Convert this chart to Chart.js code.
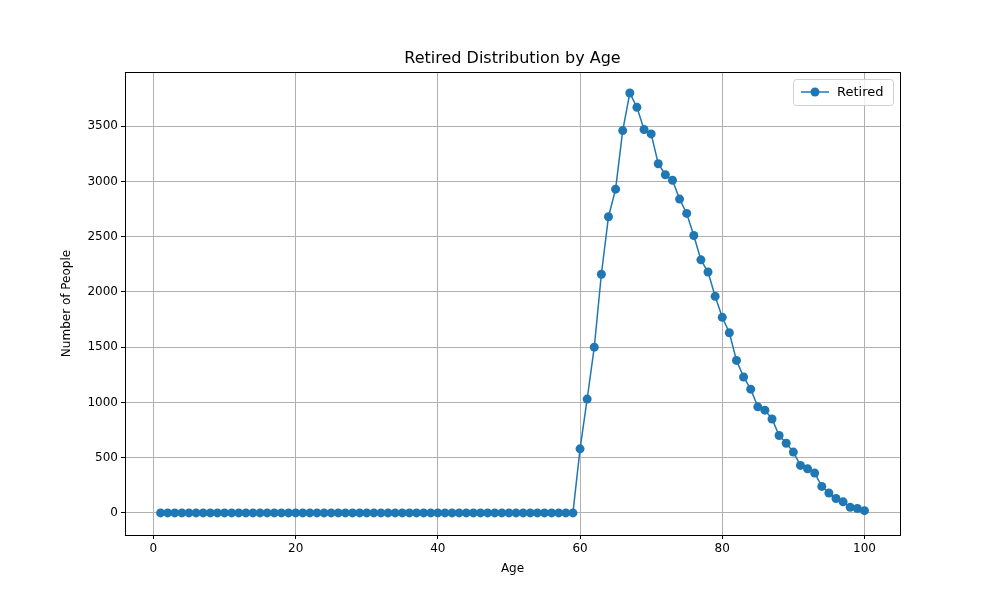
<!DOCTYPE html>
<html>
<head>
<meta charset="utf-8">
<script src="https://cdn.jsdelivr.net/npm/chart.js@4/dist/chart.umd.min.js"></script>
<style>
  html, body { margin: 0; padding: 0; background: #fff; }
  #wrap { width: 1000px; height: 600px; }
</style>
</head>
<body>
<div id="wrap"><canvas id="c" width="1000" height="600"></canvas></div>
<script>
const ages = Array.from({ length: 100 }, (_, i) => i + 1);
const retiredTail = [580, 1030, 1500, 2160, 2680, 2930, 3460, 3800, 3670, 3470, 3430, 3160, 3060, 3010,
  2840, 2710, 2510, 2290, 2180, 1960, 1770, 1630, 1380, 1230, 1120, 960, 930, 850, 700, 630, 550,
  430, 400, 360, 240, 180, 130, 100, 50, 40, 20];
const retired = new Array(59).fill(0).concat(retiredTail);
const xTicks = [0, 20, 40, 60, 80, 100];
const yTicks = [0, 500, 1000, 1500, 2000, 2500, 3000, 3500];

const blue = '#1f77b4';
const font = { family: 'DejaVu Sans', size: 12 };

const overlay = {
  id: 'overlay',
  afterDraw(chart) {
    const { ctx, chartArea: a } = chart;
    ctx.save();
    // frame
    ctx.strokeStyle = '#000'; ctx.lineWidth = 1;
    ctx.strokeRect(a.left + 0.5, a.top + 0.5, a.right - a.left, a.bottom - a.top);
    ctx.fillStyle = '#000';
    ctx.font = '16px "DejaVu Sans"';
    ctx.textAlign = 'center';
    ctx.textBaseline = 'bottom';
    ctx.fillText('Retired Distribution by Age', (a.left + a.right) / 2, a.top - 5);
    // axis titles
    ctx.font = '12px "DejaVu Sans"';
    ctx.textBaseline = 'middle';
    ctx.fillText('Age', (a.left + a.right) / 2, 569);
    ctx.translate(67, (a.top + a.bottom) / 2);
    ctx.rotate(-Math.PI / 2);
    ctx.fillText('Number of People', 0, 0);
    ctx.setTransform(chart.currentDevicePixelRatio, 0, 0, chart.currentDevicePixelRatio, 0, 0);
    // legend
    const w = 100, h = 26, x = a.right - w - 7, y = a.top + 7;
    ctx.fillStyle = 'rgba(255,255,255,0.8)';
    ctx.strokeStyle = '#d0d0d0';
    ctx.beginPath();
    ctx.roundRect(x + 0.5, y + 0.5, w, h, 3);
    ctx.fill(); ctx.stroke();
    ctx.strokeStyle = blue; ctx.lineWidth = 1.5;
    ctx.beginPath(); ctx.moveTo(x + 8, y + h / 2); ctx.lineTo(x + 36, y + h / 2); ctx.stroke();
    ctx.fillStyle = blue;
    ctx.beginPath(); ctx.arc(x + 22, y + h / 2, 4.5, 0, Math.PI * 2); ctx.fill();
    ctx.fillStyle = '#000';
    ctx.font = '13px "DejaVu Sans"';
    ctx.textAlign = 'left';
    ctx.fillText('Retired', x + 44, y + h / 2 + 1);
    ctx.restore();
  }
};

new Chart(document.getElementById('c'), {
  type: 'line',
  data: {
    datasets: [{
      label: 'Retired',
      data: ages.map((a, i) => ({ x: a, y: retired[i] })),
      borderColor: blue,
      backgroundColor: blue,
      borderWidth: 1.5,
      pointRadius: 4.5,
      pointBorderWidth: 0,
      tension: 0
    }]
  },
  options: {
    responsive: false,
    animation: false,
    layout: { padding: { top: 72, right: 100, left: 0, bottom: 0 } },
    plugins: { legend: { display: false }, title: { display: false }, tooltip: { enabled: false } },
    scales: {
      x: {
        type: 'linear', min: -4, max: 105,
        afterBuildTicks: (s) => { s.ticks = xTicks.map(v => ({ value: v })); },
        afterFit: (s) => { s.height = 65; },
        grid: { color: '#b0b0b0', tickColor: '#000', tickLength: 4 },
        border: { color: '#000' },
        ticks: { color: '#000', font, callback: (v) => String(v) }
      },
      y: {
        min: -200, max: 3990,
        afterBuildTicks: (s) => { s.ticks = yTicks.map(v => ({ value: v })); },
        afterFit: (s) => { s.width = 125; },
        grid: { color: '#b0b0b0', tickColor: '#000', tickLength: 4 },
        border: { color: '#000' },
        ticks: { color: '#000', font, callback: (v) => String(v) }
      }
    }
  },
  plugins: [overlay]
});
</script>
</body>
</html>
